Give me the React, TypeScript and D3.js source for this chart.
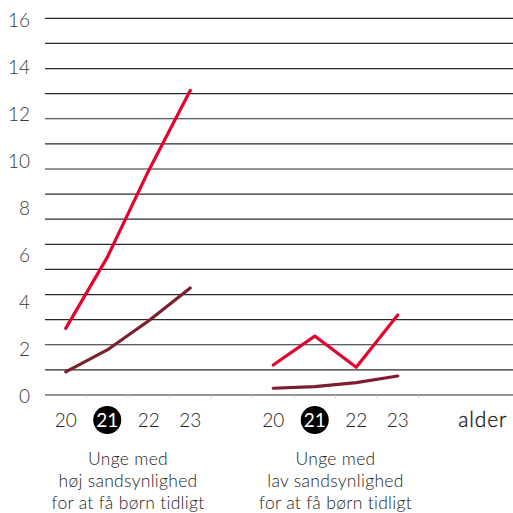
import React from "react";
import * as d3 from "d3";

const ages = ["20", "21", "22", "23"];
const highRed = [2.88, 5.9, 9.6, 13.0];
const highDark = [1.03, 1.96, 3.2, 4.6];
const lowRed = [1.32, 2.55, 1.22, 3.45];
const lowDark = [0.33, 0.4, 0.57, 0.85];
const yTicks = [0, 2, 4, 6, 8, 10, 12, 14, 16];
const gridCount = 15;
const highlightAge = "21";
const axisLabel = "alder";
const groupLabels = [
  ["Unge med", "høj sandsynlighed", "for at få børn tidligt"],
  ["Unge med", "lav sandsynlighed", "for at få børn tidligt"],
];

const W = 513;
const H = 513;
const RED = "#e4032e";
const DARK = "#7b1f30";
const FONT = "Lato, 'Noto Sans', sans-serif";

export default function App() {
  const slots = [
    ...ages.map((a) => "h" + a),
    "gap1",
    ...ages.map((a) => "l" + a),
    "gap2",
    "alder",
  ];
  const x = d3.scaleBand<string>().domain(slots).range([45, 501.5]).padding(0);
  const cx = (k: string) => (x(k) as number) + x.bandwidth() / 2;
  const y = d3.scaleLinear().domain([0, 16]).range([396, 20]);
  const gridVals = d3.range(gridCount + 1).map((i) => (i * 16) / gridCount);
  const yGrid = d3.scaleLinear().domain([0, 16]).range([395, 18.3]);

  const line = d3
    .line<[string, number]>()
    .x((d) => cx(d[0]))
    .y((d) => y(d[1]));

  const series = [
    { keys: ages.map((a) => "h" + a), vals: highDark, color: DARK },
    { keys: ages.map((a) => "h" + a), vals: highRed, color: RED },
    { keys: ages.map((a) => "l" + a), vals: lowDark, color: DARK },
    { keys: ages.map((a) => "l" + a), vals: lowRed, color: RED },
  ];

  const boundaries = slots.slice(1).map((s) => x(s) as number);

  return (
    <svg
      width={W}
      height={H}
      style={{ position: "absolute", left: 0, top: 0, background: "#fff" }}
      fontFamily={FONT}
    >
      {gridVals.map((v, i) => (
        <line
          key={i}
          x1={45}
          x2={W}
          y1={yGrid(v)}
          y2={yGrid(v)}
          stroke="#2a2a2a"
          strokeWidth={1.2}
        />
      ))}
      {boundaries.slice(0, 9).map((bx, i) => (
        <line key={"t" + i} x1={bx} x2={bx} y1={395.5} y2={399} stroke="#ddd" strokeWidth={1} />
      ))}
      {yTicks.map((t) => (
        <text
          key={t}
          x={30}
          y={y(t)}
          dy="0.36em"
          textAnchor="end"
          fontSize={19}
          fill="#3a3a3a"
          fontWeight={300}
        >
          {t}
        </text>
      ))}
      {series.map((s, i) => (
        <path
          key={i}
          d={line(s.keys.map((k, j) => [k, s.vals[j]] as [string, number])) || ""}
          fill="none"
          stroke={s.color}
          strokeWidth={3.2}
          strokeLinecap="round"
          strokeLinejoin="round"
        />
      ))}
      {["h", "l"].map((g) =>
        ages.map((a) => {
          const hl = a === highlightAge;
          return (
            <g key={g + a}>
              {hl && <circle cx={cx(g + a)} cy={420} r={14} fill="#000" />}
              <text
                x={cx(g + a)}
                y={420}
                dy="0.36em"
                textAnchor="middle"
                fontSize={19}
                fill={hl ? "#fff" : "#222"}
                fontWeight={hl ? 400 : 300}
              >
                {a}
              </text>
            </g>
          );
        })
      )}
      <text
        x={cx("alder") + 2}
        y={419}
        dy="0.36em"
        textAnchor="middle"
        fontSize={21}
        fill="#111"
        fontWeight={300}
        stroke="#111"
        strokeWidth={0.3}
        letterSpacing={0.8}
      >
        {axisLabel}
      </text>
      {groupLabels.map((lines, gi) => {
        const keys = ages.map((a) => (gi === 0 ? "h" : "l") + a);
        const mid = (cx(keys[0]) + cx(keys[keys.length - 1])) / 2;
        return lines.map((ln, li) => (
          <text
            key={gi + "-" + li}
            x={mid}
            y={459 + li * 22}
            dy="0.36em"
            textAnchor="middle"
            fontSize={17.5}
            fill="#222"
            fontWeight={300}
            letterSpacing={0.3}
          >
            {ln}
          </text>
        ));
      })}
    </svg>
  );
}
